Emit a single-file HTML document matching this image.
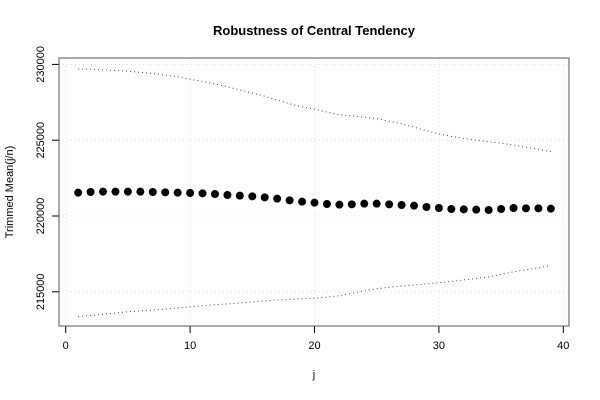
<!DOCTYPE html>
<html><head><meta charset="utf-8"><style>body{margin:0;background:#fff}svg{display:block;font-family:"Liberation Sans",sans-serif}</style></head>
<body>
<svg id="chart" width="600" height="400" viewBox="0 0 600 400">
<rect width="600" height="400" fill="#fff"/>
<text x="314" y="35" text-anchor="middle" font-size="13" font-weight="bold">Robustness of Central Tendency</text>
<text transform="translate(13,192) rotate(-90)" text-anchor="middle" font-size="11">Trimmed Mean(j/n)</text>
<text x="314" y="378" text-anchor="middle" font-size="11">j</text>
<g id="grid"></g><g id="axes"></g><g id="series"></g>
<rect x="59" y="58" width="510" height="268" fill="none" stroke="#555" stroke-width="1"/>
</svg>
<script>
const xTicks=[0,10,20,30,40];
const yTicks=[215000,220000,225000,230000];
const meanVals=[221540,221584,221606,221606,221606,221606,221584,221562,221540,221518,221496,221452,221386,221342,221298,221232,221144,221034,220946,220880,220792,220748,220770,220814,220814,220770,220726,220682,220594,220528,220462,220440,220418,220396,220462,220528,220506,220506,220484];
const upperVals=[229700,229680,229640,229600,229550,229480,229400,229300,229180,229020,228880,228720,228520,228320,228120,227900,227650,227400,227200,227050,226850,226680,226600,226520,226420,226250,226080,225860,225620,225420,225250,225120,225000,224900,224800,224680,224540,224400,224250];
const lowerVals=[213360,213440,213520,213600,213680,213740,213800,213860,213940,214010,214080,214150,214200,214260,214330,214400,214460,214500,214540,214580,214650,214740,214900,215060,215200,215300,215380,215450,215520,215600,215680,215780,215880,215980,216150,216320,216450,216580,216740];
const NS='http://www.w3.org/2000/svg';
function xs(v){return 65.7+v*12.44;}
function ys(v){return 216-(v-220000)/5000*75.8;}
function mk(t,a,p){const e=document.createElementNS(NS,t);for(const k in a)e.setAttribute(k,a[k]);p.appendChild(e);return e;}
const grid=document.getElementById('grid'),axes=document.getElementById('axes'),ser=document.getElementById('series');
xTicks.forEach(t=>{
 const g=mk('line',{x1:xs(t),x2:xs(t),y1:58,y2:326,stroke:'#ddd','stroke-dasharray':'1,3'},grid);
 
 const l=mk('line',{x1:xs(t),x2:xs(t),y1:326,y2:333,stroke:'#000'},axes);
 
 const tx=mk('text',{x:xs(t),y:349,'text-anchor':'middle','font-size':'11'},axes);tx.textContent=t;
 
});
yTicks.forEach(t=>{
 const g=mk('line',{x1:59,x2:569,y1:ys(t),y2:ys(t),stroke:'#ddd','stroke-dasharray':'1,3'},grid);
 
 const l=mk('line',{x1:52,x2:59,y1:ys(t),y2:ys(t),stroke:'#000'},axes);
 
 const tx=mk('text',{transform:`translate(44,${ys(t)}) rotate(-90)`,'text-anchor':'middle','font-size':'11'},axes);tx.textContent=t;
 
});
function band(vals,name){
 const p=mk('polyline',{points:vals.map((v,i)=>xs(i+1)+','+ys(v)).join(' '),fill:'none',stroke:'#444','stroke-width':'1','stroke-dasharray':'1,3'},ser);
 
}
band(upperVals,'upper-bound-line');band(lowerVals,'lower-bound-line');
meanVals.forEach((v,i)=>{
 const c=mk('circle',{cx:xs(i+1),cy:ys(v),r:4,fill:'#000'},ser);
 
});
</script>
</body></html>
